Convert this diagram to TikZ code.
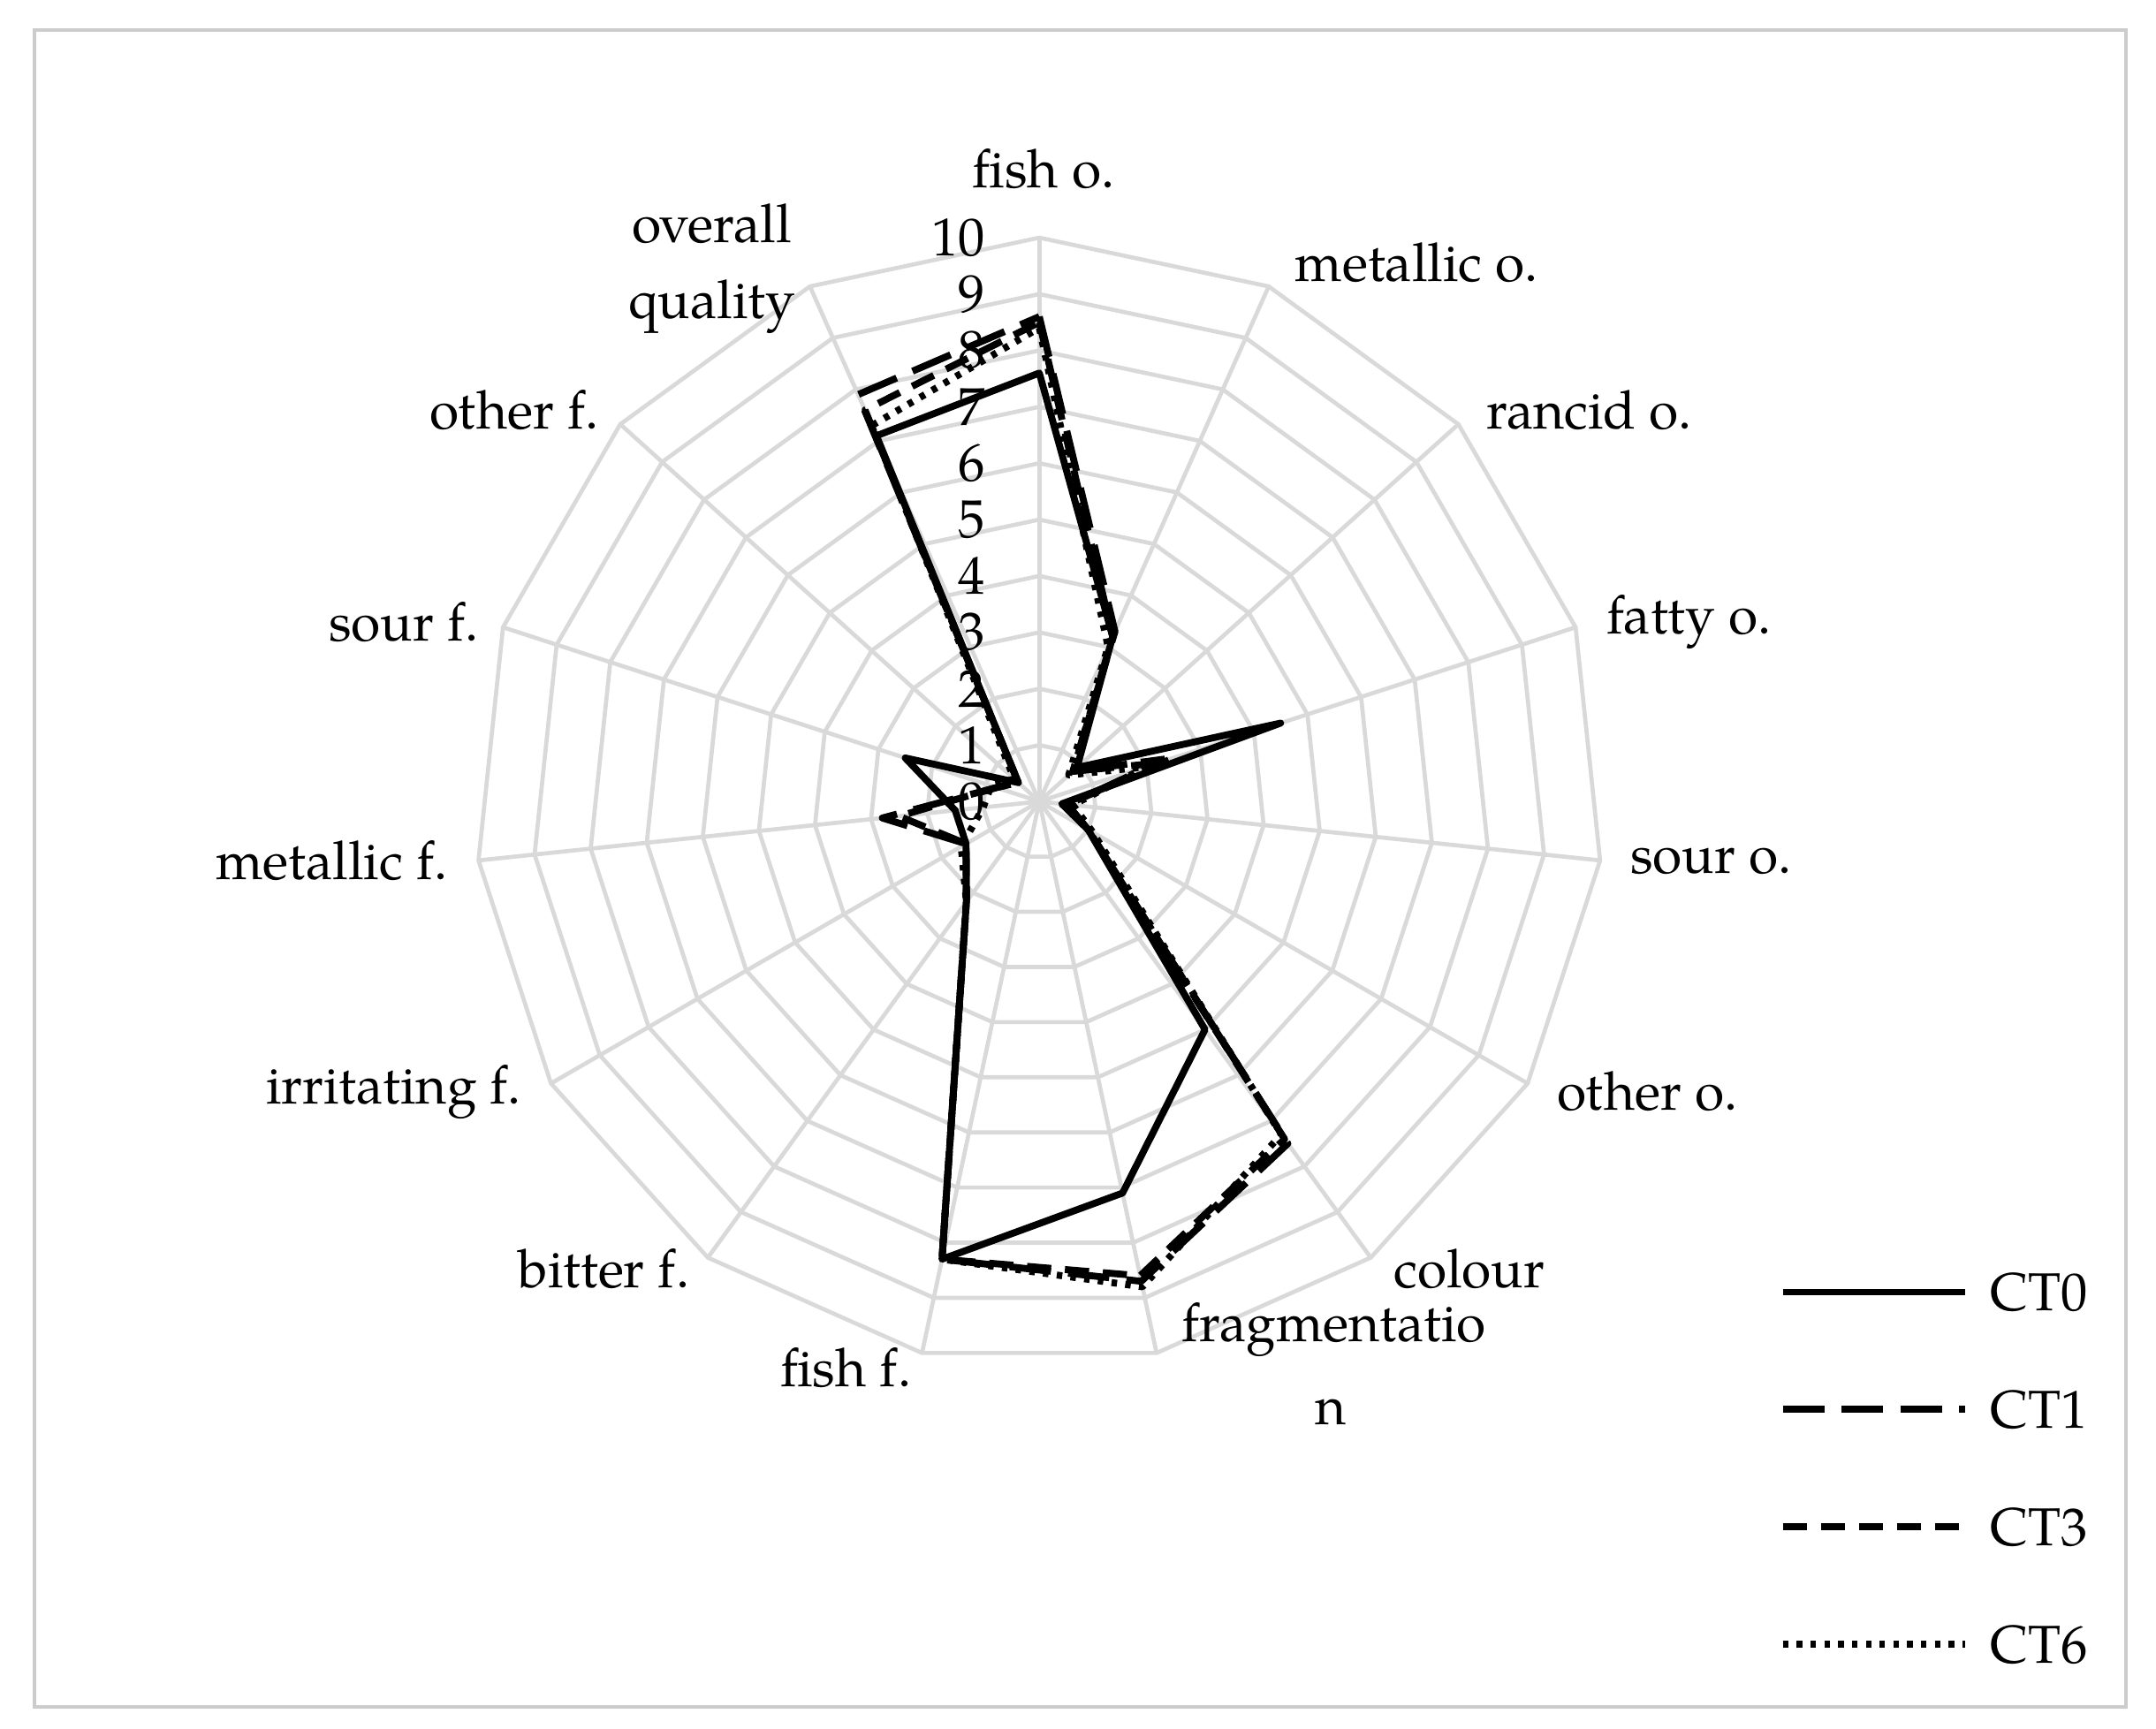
\documentclass[tikz,border=0pt]{standalone}
\usepackage{fontspec}
\setmainfont{TeX Gyre Pagella}
\begin{document}
\begin{tikzpicture}[x=0.02cm,y=-0.02cm,
 grid/.style={draw=black!15,line width=0.6mm},
 lab/.style={font=\fontsize{22}{28}\selectfont,inner sep=0pt},
 ser/.style={line width=1mm,line join=round},
 ct0/.style={ser},
 ct1/.style={ser,dash pattern=on 6mm off 2.5mm},
 ct3/.style={ser,dash pattern=on 3.5mm off 2mm},
 ct6/.style={ser,dash pattern=on 0.8mm off 1.2mm}]
\useasboundingbox (0,0) rectangle (1560,1251);
\draw[black!20,line width=0.5mm] (25,22) rectangle (1538,1235);
% grid
\foreach \r in {1,...,10}{
 \draw[grid] (752,{580-\r*40.8}) \foreach \k in {1,...,14}{ -- ({752+\r*40.8*cos(90-24*\k)},{580-\r*40.8*sin(90-24*\k)})} -- cycle;}
\foreach \k in {0,...,14}\draw[grid] (752,580) -- ({752+408*cos(90-24*\k)},{580-408*sin(90-24*\k)});
% ticks
\foreach \t in {0,...,10}\node[lab,anchor=east] (t\t) at (713,{580-\t*40.8}) {\t};
% series
\newcommand\series[2]{%
 \foreach \v [count=\k from 0] in {#2}{\coordinate (#1\k) at ({752+\v*40.8*cos(90-24*\k)},{580-\v*40.8*sin(90-24*\k)});}
 \draw[#1] (#10) \foreach \k in {1,...,14}{-- (#1\k)} -- cycle;}
\series{ct0}{7.6,3.2,0.9,4.5,0.4,1.0,5.0,7.1,8.3,2.2,1.5,1.5,2.5,0.5,7.1}
\series{ct1}{8.6,3.3,0.8,2.2,0.5,1.0,7.5,8.7,8.3,2.2,1.5,2.8,0.8,0.5,7.9}
\series{ct3}{8.5,3.2,0.8,2.5,0.5,1.0,7.4,8.6,8.3,2.2,1.5,2.5,0.8,0.5,7.6}
\series{ct6}{8.4,3.0,0.7,2.0,0.6,1.1,7.3,8.8,8.3,2.2,1.6,1.0,0.9,0.6,7.3}
% labels
\node[lab] (l0) at (755,122) {fish o.};
\node[lab] (l1) at (1025,190) {metallic o.};
\node[lab] (l2) at (1150,297) {rancid o.};
\node[lab] (l3) at (1222,450) {fatty o.};
\node[lab] (l4) at (1238,623) {sour o.};
\node[lab] (l5) at (1192,790) {other o.};
\node[lab] (l6) at (1063,918) {colour};
\node[lab] (l7) at (965,962) {fragmentatio};
\node[lab] (l7b) at (963,1022) {n};
\node[lab] (l8) at (612,990) {fish f.};
\node[lab] (l9) at (437,918) {bitter f.};
\node[lab] (l10) at (285,790) {irritating f.};
\node[lab] (l11) at (240,623) {metallic f.};
\node[lab] (l12) at (292,450) {sour f.};
\node[lab] (l13) at (372,297) {other f.};
\node[lab] (l14) at (515,162) {overall};
\node[lab] (l14b) at (515,222) {quality};
% legend
\foreach \s/\n/\y in {ct0/CT0/935,ct1/CT1/1020,ct3/CT3/1105,ct6/CT6/1190}{
 \coordinate (a\n) at (1290,\y); \coordinate (b\n) at (1422,\y);
 \draw[\s] (a\n) -- (b\n);
 \node[lab,anchor=west] (n\n) at (1440,\y) {\n};}
\end{tikzpicture}
\end{document}
